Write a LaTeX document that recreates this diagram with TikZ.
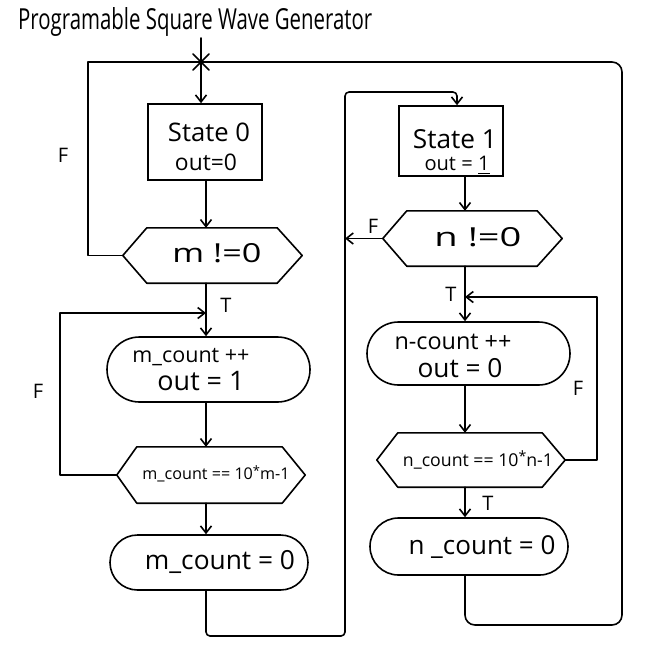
\documentclass[tikz,border=0pt]{standalone}
\usepackage{fontspec}
\setmainfont{Open Sans}
\usepackage{graphicx}
\usetikzlibrary{arrows.meta,shapes.misc,calc}
\newcommand{\fw}[2]{\resizebox{#1}{!}{#2}}
\newcommand{\fwh}[3]{\resizebox{#1}{#2}{#3}}
\tikzset{
 line/.style={line width=1.6pt, line cap=round, line join=round},
 arr/.style={line, -{Straight Barb[length=7pt,width=11pt,line width=1.6pt]}},
 box/.style={draw, line width=1.6pt, rectangle, inner sep=0pt},
 term/.style={draw, line width=1.6pt, rounded rectangle, inner sep=0pt},
 hexbody/.style={rectangle, inner sep=0pt},
 txt/.style={inner sep=0pt},
 lbl/.style={inner sep=0pt, font=\fontsize{20}{22}\selectfont},
}
\begin{document}
\begin{tikzpicture}[x=1pt,y=-1pt]
\useasboundingbox (0,0) rectangle (664,659);
\fill[white] (0,0) rectangle (664,659);

% title
\node[txt, anchor=west] (title) at (18,22) {\fwh{354pt}{22pt}{Programable Square Wave Generator}};

% left column shapes
\node[box, minimum width=114pt, minimum height=76pt] (s0) at (205,142) {};
\node[hexbody, minimum width=130pt, minimum height=55pt] (h0) at (212,255.5) {};
\node[term, minimum width=203pt, minimum height=65pt] (t1) at (208.5,369.5) {};
\node[hexbody, minimum width=145pt, minimum height=56pt] (h1) at (209.5,475) {};
\node[term, minimum width=198pt, minimum height=55pt] (t2) at (209,562.5) {};

% right column shapes
\node[box, minimum width=104pt, minimum height=70pt] (s1) at (451,141) {};
\node[hexbody, minimum width=130pt, minimum height=55pt] (h2) at (472,238.5) {};
\node[term, minimum width=203pt, minimum height=63pt] (t3) at (468.5,353.5) {};
\node[hexbody, minimum width=144pt, minimum height=54pt] (h3) at (470,460) {};
\node[term, minimum width=198pt, minimum height=57pt] (t4) at (469,546.5) {};

% hexagon tips and outlines
\coordinate (h0L) at ($(h0.west)+(-24,0)$);
\coordinate (h0R) at ($(h0.east)+(25,0)$);
\coordinate (h1L) at ($(h1.west)+(-20,0)$);
\coordinate (h1R) at ($(h1.east)+(23,0)$);
\coordinate (h2L) at ($(h2.west)+(-24,0)$);
\coordinate (h2R) at ($(h2.east)+(25,0)$);
\coordinate (h3L) at ($(h3.west)+(-21,0)$);
\coordinate (h3R) at ($(h3.east)+(23,0)$);
\foreach \h in {h0,h1,h2,h3}{
  \draw[line] (\h.north west) -- (\h.north east) -- (\h R) -- (\h.south east) -- (\h.south west) -- (\h L) -- cycle;
}

% texts
\node[txt] (s0a) at (209,132) {\fw{82pt}{State 0}};
\node[txt] (s0b) at (206,162) {\fw{62pt}{out=0}};
\node[txt] (h0t) at (217,253) {\fwh{89pt}{19pt}{m !=0}};
\node[txt] (t1a) at (191,357) {\fw{117pt}{m\_count ++}};
\node[txt] (t1b) at (201,381) {\fw{87pt}{out = 1}};
\node[txt] (h1t) at (216,474) {\fw{147pt}{m\_count == 10\raisebox{.5ex}{\footnotesize*}m-1}};
\node[txt] (t2t) at (220,562) {\fw{150pt}{m\_count = 0}};
\node[txt] (s1a) at (455,139) {\fw{84pt}{State 1}};
\node[txt] (s1b) at (457,165) {\fw{65pt}{out = \underline{1}}};
\node[txt] (h2t) at (478,237) {\fwh{87pt}{19pt}{n !=0}};
\node[txt] (t3a) at (453,342) {\fw{117pt}{n-count ++}};
\node[txt] (t3b) at (460,368) {\fw{85pt}{out = 0}};
\node[txt] (h3t) at (478,460) {\fw{150pt}{n\_count == 10\raisebox{.5ex}{\footnotesize*}n-1}};
\node[txt] (t4t) at (482,547) {\fw{147pt}{n \_count = 0}};

% labels
\node[lbl] (f1) at (63,155) {F};
\node[lbl] (f2) at (373,226) {F};
\node[lbl] (tt1) at (226,305) {T};
\node[lbl] (f3) at (38,391) {F};
\node[lbl] (tt2) at (451,294) {T};
\node[lbl] (f4) at (578,388) {F};
\node[lbl] (tt3) at (488,503) {T};

% helper coordinates
\coordinate (cL) at (206,0);
\coordinate (cR) at (465,0);
\coordinate (S) at (201,38);
\coordinate (J) at (201,62);
\coordinate (LO) at (88,0);
\coordinate (LI) at (60,0);
\coordinate (M1) at (206,313);
\coordinate (MB) at (345,636);
\coordinate (MT) at (457,92);
\coordinate (RB) at (622,625);
\coordinate (RI) at (597,0);
\coordinate (M2) at (465,297);

% junction mark
\draw[line] ($(J)+(-8,-8)$) -- ($(J)+(8,8)$);
\draw[line] ($(J)+(-8,8)$) -- ($(J)+(8,-8)$);

% main flow left
\draw[arr] (S) -- (S |- s0.north);
\draw[arr] (s0.south -| cL) -- (h0.north -| cL);
\draw[arr] (h0.south -| cL) -- (t1.north -| cL);
\draw[arr] (t1.south -| cL) -- (h1.north -| cL);
\draw[arr] (h1.south -| cL) -- (t2.north -| cL);

% main flow right
\draw[arr] (s1.south -| cR) -- (h2.north -| cR);
\draw[arr] (h2.south -| cR) -- (t3.north -| cR);
\draw[arr] (t3.south -| cR) -- (h3.north -| cR);
\draw[arr] (h3.south -| cR) -- (t4.north -| cR);

% loops
\draw[line] (h0L) -| (LO |- J) -- (J);
\draw[arr] (h1L) -| (LI |- M1) -- (M1);
\draw[arr, rounded corners=4pt] (t2.south -| cL) |- (MB) |- (MT) -- (MT |- s1.north);
\draw[arr] (h2L) -- (h2L -| MB);
\draw[line, rounded corners=10pt] (t4.south -| cR) |- (RB) |- (J);
\draw[arr] (h3R) -| (RI |- M2) -- (M2);
\end{tikzpicture}
\end{document}
